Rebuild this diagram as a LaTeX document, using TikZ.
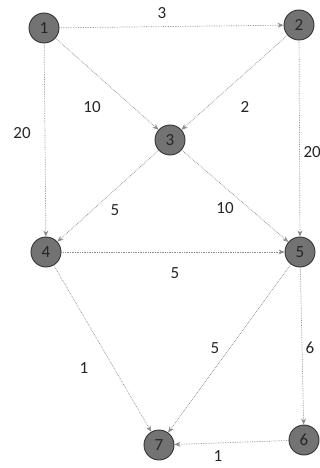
\documentclass[tikz,border=0pt]{standalone}
\usepackage{fontspec}
\setmainfont{Carlito}
\usetikzlibrary{arrows.meta}
\begin{document}
\begin{tikzpicture}[x=1pt,y=-1pt,
			vertex/.style={circle,draw=black!80,fill=black!55,line width=0.9pt,minimum size=30pt,inner sep=0pt,font=\fontsize{17}{19}\selectfont,text=black!85},
			edge/.style={-{Stealth[length=6pt,width=5pt]},densely dotted,line width=0.7pt,black!45},
			weight/.style={font=\fontsize{17}{19}\selectfont,text=black!85}]
			% frame
			\useasboundingbox (0,0) rectangle (320,468);
			% vertices
			\node[vertex] (v1) at (44,28) {1};
			\node[vertex] (v2) at (299,25) {2};
			\node[vertex] (v3) at (170,140) {3};
			\node[vertex] (v4) at (46,252) {4};
			\node[vertex] (v5) at (300,252) {5};
			\node[vertex] (v6) at (304,440) {6};
			\node[vertex] (v7) at (159,445) {7};
			% edges
			\draw[edge] (v1) -- (v2);
			\draw[edge] (v1) -- (v3);
			\draw[edge] (v2) -- (v3);
			\draw[edge] (v1) -- (v4);
			\draw[edge] (v2) -- (v5);
			\draw[edge] (v3) -- (v4);
			\draw[edge] (v3) -- (v5);
			\draw[edge] (v4) -- (v5);
			\draw[edge] (v4) -- (v7);
			\draw[edge] (v5) -- (v7);
			\draw[edge] (v5) -- (v6);
			\draw[edge] (v6) -- (v7);
			% weights
			\node[weight] (w12) at (162,13) {3};
			\node[weight] (w13) at (92,107) {10};
			\node[weight] (w23) at (245,107) {2};
			\node[weight] (w14) at (22,133) {20};
			\node[weight,anchor=west] (w25) at (300,152) {20};
			\node[weight] (w34) at (115,210) {5};
			\node[weight] (w35) at (225,208) {10};
			\node[weight] (w45) at (175,273) {5};
			\node[weight] (w47) at (84,368) {1};
			\node[weight] (w57) at (215,348) {5};
			\node[weight] (w56) at (310,348) {6};
			\node[weight] (w67) at (218,456) {1};
		\end{tikzpicture}
\end{document}
